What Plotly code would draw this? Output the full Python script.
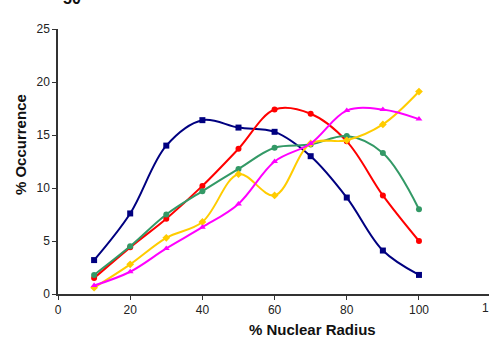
import plotly.graph_objects as go

# Percent of nuclear radius (x) and occurrence (%) for each series
radius = [10, 20, 30, 40, 50, 60, 70, 80, 90, 100]

navy_vals = [3.2, 7.6, 14.0, 16.4, 15.7, 15.3, 13.0, 9.1, 4.1, 1.8]
red_vals = [1.5, 4.4, 7.1, 10.2, 13.7, 17.4, 17.0, 14.4, 9.3, 5.0]
green_vals = [1.8, 4.5, 7.5, 9.7, 11.8, 13.8, 14.1, 14.9, 13.3, 8.0]
gold_vals = [0.6, 2.8, 5.3, 6.8, 11.3, 9.3, 14.2, 14.5, 16.0, 19.1]
magenta_vals = [0.8, 2.1, 4.3, 6.3, 8.5, 12.5, 14.2, 17.3, 17.4, 16.5]

x_ticks = [0, 20, 40, 60, 80, 100]
y_ticks = [0, 5, 10, 15, 20, 25]

series = [
    (navy_vals, "#000080", "square"),
    (red_vals, "#FF0000", "circle"),
    (green_vals, "#339966", "circle"),
    (gold_vals, "#FFCC00", "diamond"),
    (magenta_vals, "#FF00FF", "triangle-up"),
]

fig = go.Figure()
for vals, color, symbol in series:
    fig.add_trace(go.Scatter(
        x=radius, y=vals, mode="lines+markers",
        line=dict(color=color, width=2, shape="spline", smoothing=1.0),
        marker=dict(color=color, symbol=symbol, size=6),
        showlegend=False,
    ))

font = "Liberation Sans, Arial, sans-serif"
axis_common = dict(
    showgrid=False, zeroline=False, showline=True, linecolor="#333333",
    linewidth=1.5, ticks="outside", ticklen=4, tickcolor="#333333",
    tickfont=dict(family=font, size=12, color="#222222"),
)

fig.update_layout(
    width=489, height=339,
    margin=dict(l=58, r=0, t=29, b=45),
    paper_bgcolor="white", plot_bgcolor="white",
    xaxis=dict(range=[0, 119.4], tickvals=x_ticks, **axis_common),
    yaxis=dict(range=[0, 25], tickvals=y_ticks, **axis_common),
    annotations=[
        dict(text="<b>% Nuclear Radius</b>", xref="paper", yref="paper",
             x=(312 - 58) / 431, y=(294 - 329) / 265, xanchor="center",
             yanchor="middle", showarrow=False,
             font=dict(family=font, size=15, color="#111111")),
        dict(text="<b>% Occurrence</b>", xref="paper", yref="paper",
             x=-0.088, y=(294 - 145) / 265, xanchor="center", yanchor="middle",
             textangle=-90, showarrow=False,
             font=dict(family=font, size=15, color="#111111")),
        # tick label for 120 sitting just past the right edge
        dict(text="120", xref="paper", yref="paper",
             x=(492 - 58) / 431, y=(294 - 299) / 265, xanchor="center",
             yanchor="top", showarrow=False,
             font=dict(family=font, size=12, color="#222222")),
        dict(text="<b>50</b>", xref="paper", yref="paper",
             x=(72 - 58) / 431, y=(294 - 9) / 265, xanchor="center",
             yanchor="bottom", showarrow=False,
             font=dict(family=font, size=16, color="#111111")),
    ],
)

fig.write_html("out.html")
